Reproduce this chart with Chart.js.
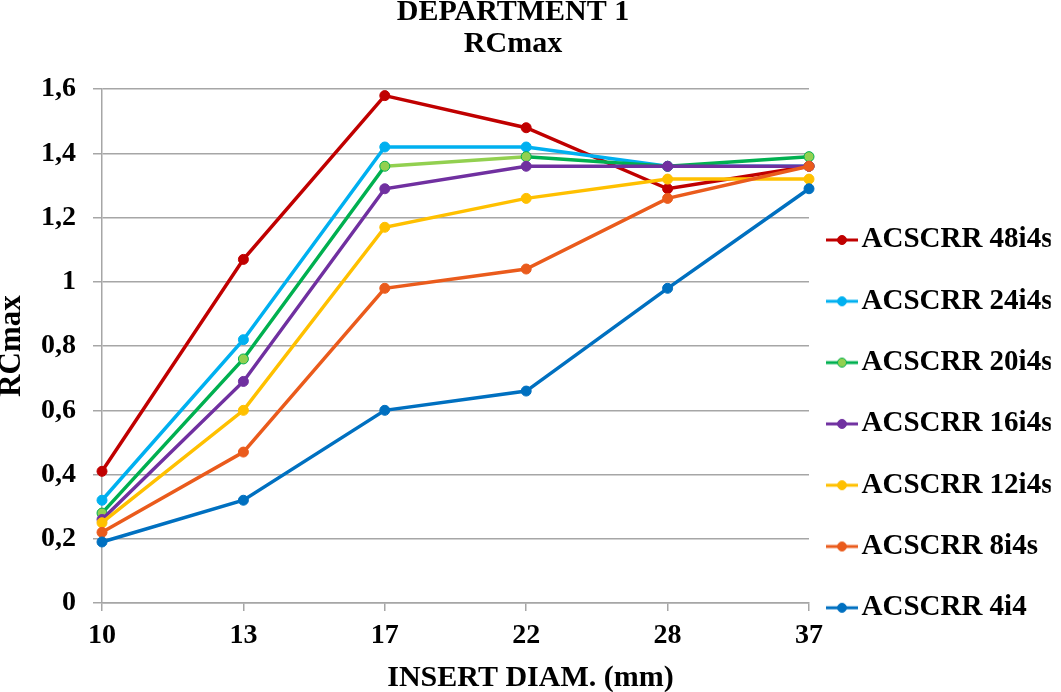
<!DOCTYPE html>
<html>
<head>
<meta charset="utf-8">
<script src="https://cdn.jsdelivr.net/npm/chart.js@4/dist/chart.umd.min.js"></script>
<style>
html,body{margin:0;padding:0;background:#fff;}
#wrap{position:relative;width:1061px;height:692px;}
</style>
</head>
<body>
<div id="wrap"><canvas id="c" width="1061" height="692"></canvas></div>
<script>
const categories = ['10', '13', '17', '22', '28', '37'];
const seriesNames = ['ACSCRR 48i4s', 'ACSCRR 24i4s', 'ACSCRR 20i4s', 'ACSCRR 16i4s', 'ACSCRR 12i4s', 'ACSCRR 8i4s', 'ACSCRR 4i4'];
const s48 = [0.41, 1.07, 1.58, 1.48, 1.29, 1.36];
const s24 = [0.32, 0.82, 1.42, 1.42, 1.36, 1.36];
const s20 = [0.28, 0.76, 1.36, 1.39, 1.36, 1.39];
const s16 = [0.26, 0.69, 1.29, 1.36, 1.36, 1.36];
const s12 = [0.25, 0.60, 1.17, 1.26, 1.32, 1.32];
const s8  = [0.22, 0.47, 0.98, 1.04, 1.26, 1.36];
const s4  = [0.19, 0.32, 0.60, 0.66, 0.98, 1.29];
const yTickValues = [0, 0.2, 0.4, 0.6, 0.8, 1, 1.2, 1.4, 1.6];
const yTickLabels = ['0', '0,2', '0,4', '0,6', '0,8', '1', '1,2', '1,4', '1,6'];
const titleLines = ['DEPARTMENT 1', 'RCmax'];
const xTitle = 'INSERT DIAM. (mm)';
const yTitle = 'RCmax';

const colors = ['#C00000', '#00B0F0', '#00B050', '#7030A0', '#FFC000', '#EA5B1C', '#0070C0'];
const fills  = ['#C00000', '#00B0F0', '#92D050', '#7030A0', '#FFC000', '#EA5B1C', '#0070C0'];
const lightGreen = '#92D050';
const allSeries = [s48, s24, s20, s16, s12, s8, s4];
const FONT = "'Liberation Serif', 'Times New Roman', serif";

function legendIcon(line, fill) {
  const c = document.createElement('canvas');
  c.width = 38; c.height = 12;
  const g = c.getContext('2d');
  g.strokeStyle = line; g.lineWidth = 3;
  g.beginPath(); g.moveTo(6, 6); g.lineTo(38, 6); g.stroke();
  g.fillStyle = fill; g.beginPath(); g.arc(22, 6, 4.5, 0, Math.PI * 2); g.fill();
  g.lineWidth = 1; g.strokeStyle = line; g.stroke();
  return c;
}
const icons = colors.map((c, i) => legendIcon(c, fills[i]));

const datasets = allSeries.map((d, i) => ({
  label: seriesNames[i],
  data: d,
  borderColor: colors[i],
  backgroundColor: fills[i],
  pointBackgroundColor: fills[i],
  pointBorderColor: colors[i],
  pointBorderWidth: 1,
  pointRadius: 5,
  pointHoverRadius: 5,
  borderWidth: 3.5,
  tension: 0,
  fill: false,
  order: -i,
  segment: i === 2 ? { borderColor: ctx => ctx.p0DataIndex === 2 ? lightGreen : colors[2] } : undefined
}));

const shiftPlugin = {
  id: 'shiftBoxes',
  afterLayout(chart) {
    const tb = chart.titleBlock;
    if (tb) { tb.left = 0; tb.right = 1026; }
    const lg = chart.legend;
    if (lg) { lg.left -= 10.3; lg.right -= 10.3; lg.top += 193.2; lg.bottom += 193.2; }
  }
};

new Chart(document.getElementById('c'), {
  type: 'line',
  data: { labels: categories, datasets },
  plugins: [shiftPlugin],
  options: {
    responsive: false,
    animation: false,
    layout: { padding: 0 },
    plugins: {
      title: {
        display: true,
        text: titleLines,
        color: '#000',
        font: { family: FONT, size: 30, weight: 'bold', lineHeight: 1.07 },
        padding: { top: -4, bottom: 29 }
      },
      subtitle: {
        display: true,
        position: 'bottom',
        text: xTitle,
        color: '#000',
        font: { family: FONT, size: 30, weight: 'bold', lineHeight: 0.9 },
        padding: { top: 0, bottom: 0 }
      },
      legend: {
        position: 'right',
        align: 'start',
        maxWidth: 252,
        labels: {
          color: '#000',
          font: { family: FONT, size: 29, weight: 'bold' },
          usePointStyle: true,
          pointStyleWidth: 16,
          padding: 32.3,
          sort: (a, b) => a.datasetIndex - b.datasetIndex,
          generateLabels(chart) {
            const items = Chart.defaults.plugins.legend.labels.generateLabels(chart);
            items.forEach(it => { it.pointStyle = icons[it.datasetIndex]; });
            return items;
          }
        }
      },
      tooltip: { enabled: false }
    },
    scales: {
      x: {
        type: 'category',
        offset: false,
        afterFit(scale) { scale.height = 62; },
        grid: { display: true, drawOnChartArea: false, drawTicks: true, tickLength: 8, color: '#A6A6A6', lineWidth: 1.5 },
        border: { display: true, color: '#A6A6A6', width: 1.5 },
        ticks: { color: '#000', font: { family: FONT, size: 28, weight: 'bold' }, padding: 8, maxRotation: 0, autoSkip: false }
      },
      y: {
        min: 0,
        max: 1.6,
        afterFit(scale) { scale.width = 102; },
        afterBuildTicks(scale) { scale.ticks = yTickValues.map(v => ({ value: v })); },
        grid: { display: true, drawTicks: true, tickLength: 9, color: '#A6A6A6', lineWidth: 1.5 },
        border: { display: true, color: '#A6A6A6', width: 1.5 },
        ticks: {
          color: '#000',
          font: { family: FONT, size: 28, weight: 'bold' },
          padding: 17,
          callback: (v, idx) => yTickLabels[idx]
        },
        title: { display: true, text: yTitle, color: '#000', font: { family: FONT, size: 31, weight: 'bold', lineHeight: 0.8 }, padding: { top: 0, bottom: 0 } }
      }
    }
  }
});
</script>
</body>
</html>
